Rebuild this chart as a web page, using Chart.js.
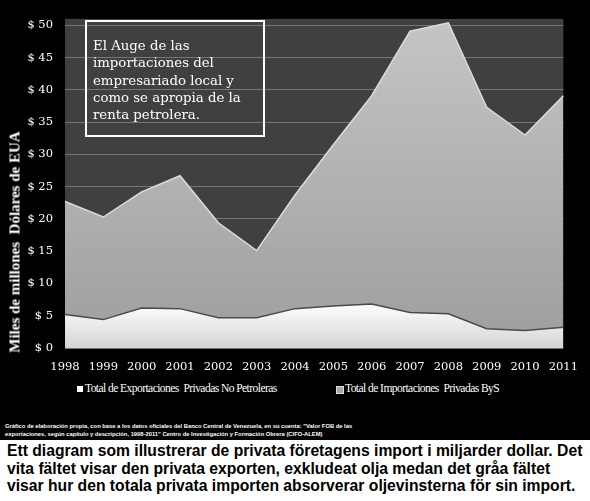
<!DOCTYPE html>
<html>
<head>
<meta charset="utf-8">
<script src="https://cdn.jsdelivr.net/npm/chart.js@4.4.1/dist/chart.umd.min.js"></script>
<style>
  body { margin: 0; width: 590px; height: 501px; background: #fff; position: relative; overflow: hidden; }
  #dark { position: absolute; left: 0; top: 0; width: 590px; height: 440px; background: #000; }
  #wrap { position: absolute; left: 0; top: 0; width: 590px; height: 380px; }
  #note { position: absolute; left: 85px; top: 20px; width: 176px; height: 113px; border: 2px solid #fff;
          color: #fff; font: 13.3px/17.3px "DejaVu Serif", serif; padding: 0; box-sizing: content-box; }
  #note div { position: absolute; left: 6px; top: 15px; white-space: nowrap; }
  #ytitle { position: absolute; left: 15px; top: 242px; transform: translate(-50%, -50%) rotate(-90deg);
            white-space: pre; color: #fff; font: bold 15px "Liberation Serif", serif; }
  #legend { position: absolute; top: 382px; left: 0; width: 590px; color: #fff;
            font: 11.5px "Liberation Serif", serif; letter-spacing: -0.55px; }
  #legend span { position: absolute; white-space: pre; }
  #legend i { position: absolute; width: 6px; height: 6px; }
  #foot { position: absolute; left: 5px; top: 422px; color: #fff; font: bold 5.8px/8px "Liberation Sans", sans-serif; white-space: nowrap; }
  #caption { position: absolute; left: 7px; top: 442px; color: #000; font: bold 15.7px/17.7px "Liberation Sans", Arial, sans-serif; white-space: nowrap; }
</style>
</head>
<body>
<div id="dark">
  <div id="wrap"><canvas id="chart"></canvas></div>
  <div id="note"><div>El Auge de las<br>importaciones del<br>empresariado local y<br>como se apropia de la<br>renta petrolera.</div></div>
  <div id="ytitle">Miles de millones  Dólares de EUA</div>
  <div id="legend">
    <i style="left:77px; top:4px; background:#fff;"></i>
    <span style="left:85px; top:0;">Total de Exportaciones  Privadas No Petroleras</span>
    <i style="left:336px; top:4px; background:#a8a8a8; border:0.5px solid #ddd;"></i>
    <span style="left:345px; top:0;">Total de Importaciones  Privadas ByS</span>
  </div>
  <div id="foot">Gráfico de elaboración propia, con base a los datos oficiales del Banco Central de Venezuela, en su cuenta: "Valor FOB de las<br>exportaciones, según capítulo y descripción, 1998-2011"  Centro de Investigación y Formación Obrera (CIFO-ALEM)</div>
</div>
<div id="caption">Ett diagram som illustrerar de privata företagens import i miljarder dollar. Det<br>vita fältet visar den privata exporten, exkludeat olja medan det gråa fältet<br>visar hur den totala privata importen absorverar oljevinsterna för sin import.</div>

<script>
// Data (miles de millones USD)
const years = ['1998', '1999', '2000', '2001', '2002', '2003', '2004', '2005', '2006', '2007', '2008', '2009', '2010', '2011'];
const exportsNoOil = [5.2, 4.4, 6.2, 6.1, 4.7, 4.7, 6.1, 6.5, 6.8, 5.5, 5.3, 3.0, 2.7, 3.2];
const importsByS = [22.7, 20.3, 24.2, 26.7, 19.4, 15.1, 23.7, 31.5, 39.1, 49.1, 50.4, 37.3, 33.0, 39.1];
const yTicks = [0, 5, 10, 15, 20, 25, 30, 35, 40, 45, 50];

const serif = '"DejaVu Serif", serif';

// dark plot background
const plotBg = {
    id: 'plotBg',
    beforeDraw(chart) {
        const a = chart.chartArea;
        const ctx = chart.ctx;
        ctx.save();
        ctx.fillStyle = '#404040';
        ctx.fillRect(a.left, a.top, a.right - a.left, a.bottom - a.top);
        ctx.restore();
    }
};

function grad(chart, topVal, c1, c2) {
    const a = chart.chartArea;
    if (!a) return c2;
    const y = chart.scales.y;
    const g = chart.ctx.createLinearGradient(0, y.getPixelForValue(topVal), 0, a.bottom);
    g.addColorStop(0, c1);
    g.addColorStop(1, c2);
    return g;
}

new Chart(document.getElementById('chart'), {
    type: 'line',
    data: {
        labels: years,
        datasets: [{
            label: 'Total de Exportaciones  Privadas No Petroleras',
            data: exportsNoOil,
            borderColor: '#4a4a4a',
            borderWidth: 1.5,
            backgroundColor: ctx => grad(ctx.chart, 7, '#ffffff', '#d4d4d4'),
            fill: 'origin',
            pointRadius: 0,
            tension: 0
        }, {
            label: 'Total de Importaciones  Privadas ByS',
            data: importsByS,
            borderColor: '#dcdcdc',
            borderWidth: 1.5,
            backgroundColor: ctx => grad(ctx.chart, 50, '#c4c4c4', '#9e9e9e'),
            fill: 'origin',
            pointRadius: 0,
            tension: 0
        }]
    },
    options: {
        responsive: true,
        maintainAspectRatio: false,
        animation: false,
        layout: { padding: { top: 11, right: 22, bottom: 0, left: 0 } },
        plugins: {
            legend: { display: false },
            tooltip: { enabled: false }
        },
        scales: {
            x: {
                type: 'category',
                offset: false,
                grid: { display: false, drawTicks: false },
                border: { display: false },
                ticks: {
                    color: '#fff',
                    font: { family: serif, size: 11.5 },
                    padding: 12,
                    maxRotation: 0,
                    autoSkip: false
                },
                afterFit: s => { s.height = 32; }
            },
            y: {
                min: 0,
                max: 51,
                grid: { color: '#767676', lineWidth: 1, drawTicks: false },
                border: { display: false },
                afterBuildTicks: s => { s.ticks = yTicks.map(v => ({ value: v })); },
                ticks: {
                    color: '#fff',
                    font: { family: serif, size: 11.5 },
                    padding: 12,
                    callback: v => '$ ' + v
                },
                afterFit: s => { s.width = 65; }
            }
        }
    },
    plugins: [plotBg]
});
</script>
</body>
</html>
